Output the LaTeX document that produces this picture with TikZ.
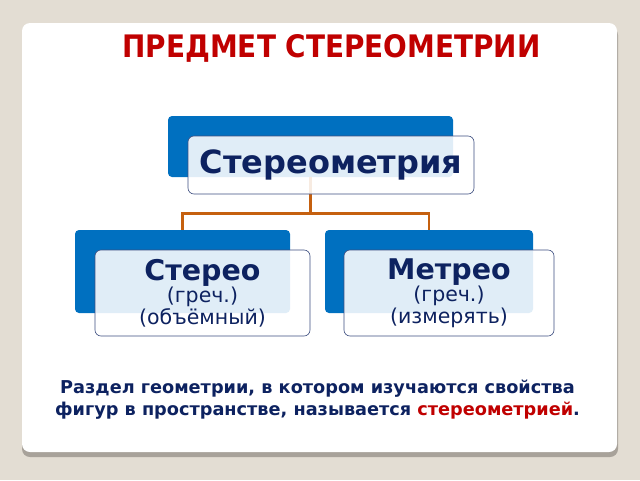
\documentclass[tikz,border=0pt]{standalone}
\usepackage{fontspec}
\setmainfont{DejaVu Sans}
\newfontfamily\titlefont{DejaVu Sans Condensed}
\usepackage{tikz}
\usetikzlibrary{calc}

\definecolor{Paper}{HTML}{E3DDD3}
\definecolor{CardShade}{HTML}{A8A29A}
\definecolor{BoxBlue}{HTML}{0070C0}
\definecolor{Navy}{HTML}{0D2260}
\definecolor{TitleRed}{HTML}{C00000}
\definecolor{Link}{HTML}{C5600F}

\begin{document}
\begin{tikzpicture}[x=1pt, y=-1pt,
		line width = 0.8pt,
		back/.style={fill=BoxBlue, rounded corners=4pt, inner sep=0pt},
		front/.style={draw=Navy!80, line width=0.6pt, fill=white, fill opacity=0.88, text opacity=1,
			rounded corners=6pt, align=center, text=Navy, inner sep=0pt},
		link/.style={draw=Link, line width=2.2pt}]

		% background and card
		\useasboundingbox (0,0) rectangle (640,480);
		\fill[Paper] (0,0) rectangle (640,480);
		\fill[CardShade, rounded corners=8pt] (22,27) rectangle (618,457);
		\fill[white, rounded corners=8pt] (22,23) rectangle (617,452);

		\node[font=\titlefont\fontsize{31}{34}\bfseries, text=TitleRed] (title) at (331.5,48) {ПРЕДМЕТ СТЕРЕОМЕТРИИ};

		% back boxes
		\node[back, minimum width=285pt, minimum height=61pt] (topback) at (310.5,146.5) {};
		\node[back, minimum width=215pt, minimum height=83pt] (lback) at (182.5,271.5) {};
		\node[back, minimum width=208pt, minimum height=83pt] (rback) at (429,271.5) {};

		% connectors
		\draw[link] (topback.south) -- ++(0,36) coordinate (split) -| (lback.north);
		\draw[link] (split) -| (rback.north);

		% front boxes
		\node[front, minimum width=286pt, minimum height=58pt, font=\fontsize{32}{34}\bfseries] (top) at (331,165) {Стереометрия};
		\node[front, minimum width=215pt, minimum height=86pt, font=\fontsize{20.5}{22}\selectfont] (stereo) at (202.5,293)
			{{\fontsize{28.5}{26}\bfseries Стерео}\\(греч.)\\(объёмный)};
		\node[front, minimum width=210pt, minimum height=86pt, font=\fontsize{20.5}{22}\selectfont] (metreo) at (449,293)
			{{\fontsize{28.5}{26}\bfseries Метрео}\\(греч.)\\(измерять)};

		\node[align=center, text=Navy, font=\fontsize{17.7}{22}\bfseries] (def) at (317.5,400)
			{Раздел геометрии, в котором изучаются свойства\\фигур в пространстве, называется \textcolor{TitleRed}{стереометрией}.};

\end{tikzpicture}
\end{document}
